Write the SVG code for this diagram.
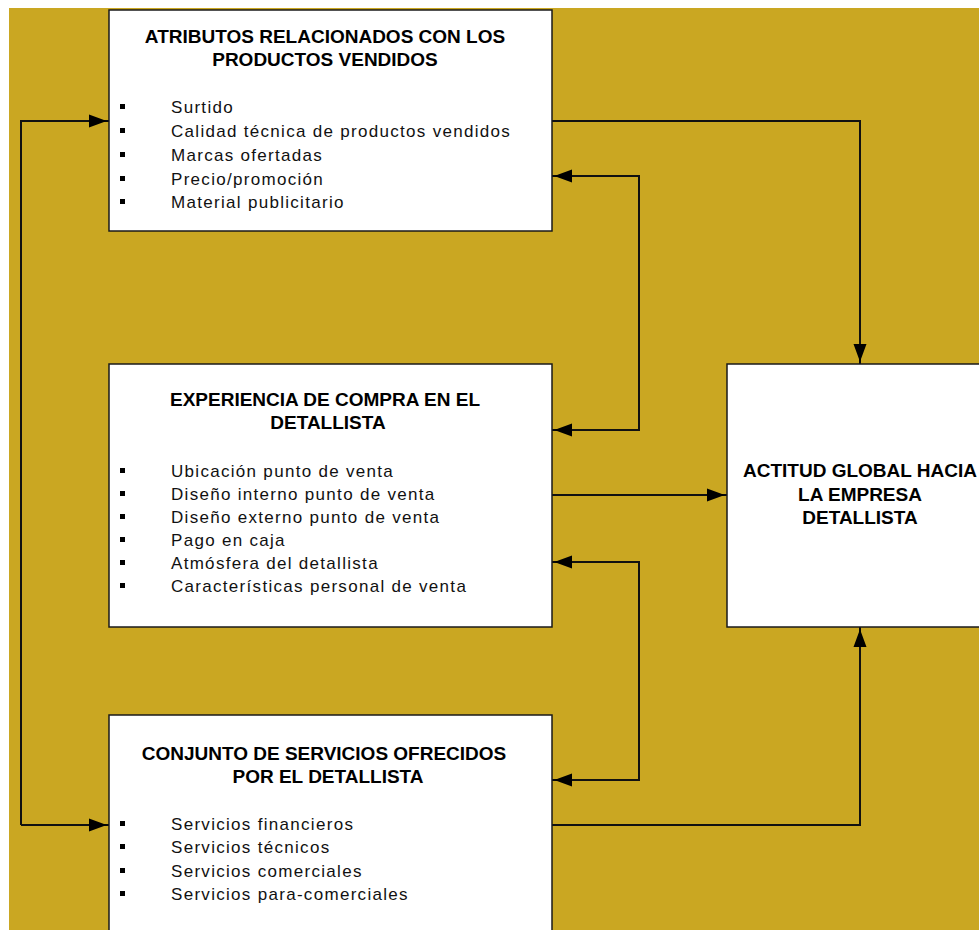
<svg xmlns="http://www.w3.org/2000/svg" width="979" height="930" viewBox="0 0 979 930">
<style>
.box{fill:#fff;stroke:#1a1a1a;stroke-width:1.5}
.ttl{font-family:"Liberation Sans",Arial,sans-serif;font-weight:bold;font-size:19px;fill:#000;text-anchor:middle}
.itm{font-family:"Liberation Sans",Arial,sans-serif;font-size:17px;letter-spacing:1.3px;fill:#111}
.bul{fill:#000}
.con{fill:none;stroke:#111;stroke-width:2}
</style>
<defs>
<marker id="ah" markerUnits="userSpaceOnUse" viewBox="0 0 20 14" refX="20" refY="7" markerWidth="20" markerHeight="14" orient="auto-start-reverse">
<path d="M0,0.5 L15,6 L20,7 L15,8 L0,13.5 z" fill="#000"/>
</marker>
</defs>
<rect x="0" y="0" width="979" height="930" fill="#fff"/>
<rect x="9" y="8" width="970" height="922" fill="#CAA722"/>

<g id="connectors">
<polyline class="con" points="21,825 21,121 109,121" marker-end="url(#ah)"/>
<polyline class="con" points="21,825 109,825" marker-end="url(#ah)"/>
<polyline class="con" points="552,121 860,121 860,364" marker-end="url(#ah)"/>
<polyline class="con" points="552,176 639,176 639,430 552,430" marker-start="url(#ah)" marker-end="url(#ah)"/>
<line class="con" x1="552" y1="495" x2="727" y2="495" marker-end="url(#ah)"/>
<polyline class="con" points="552,562 639,562 639,780 552,780" marker-start="url(#ah)" marker-end="url(#ah)"/>
<polyline class="con" points="552,825 860,825 860,627" marker-end="url(#ah)"/>
</g>

<g id="atributos">
<rect class="box" x="109" y="10" width="443" height="221"/>
<text class="ttl" x="325" y="43">ATRIBUTOS RELACIONADOS CON LOS</text>
<text class="ttl" x="325" y="66">PRODUCTOS VENDIDOS</text>
<rect class="bul" x="120" y="104" width="5" height="5"/>
<rect class="bul" x="120" y="128" width="5" height="5"/>
<rect class="bul" x="120" y="152" width="5" height="5"/>
<rect class="bul" x="120" y="176" width="5" height="5"/>
<rect class="bul" x="120" y="199" width="5" height="5"/>
<text class="itm" x="171" y="113">Surtido</text>
<text class="itm" x="171" y="137">Calidad técnica de productos vendidos</text>
<text class="itm" x="171" y="161">Marcas ofertadas</text>
<text class="itm" x="171" y="185">Precio/promoción</text>
<text class="itm" x="171" y="208">Material publicitario</text>
</g>

<g id="experiencia">
<rect class="box" x="109" y="364" width="443" height="263"/>
<text class="ttl" x="325" y="406">EXPERIENCIA DE COMPRA EN EL</text>
<text class="ttl" x="328" y="429">DETALLISTA</text>
<rect class="bul" x="120" y="468" width="5" height="5"/>
<rect class="bul" x="120" y="491" width="5" height="5"/>
<rect class="bul" x="120" y="514" width="5" height="5"/>
<rect class="bul" x="120" y="537" width="5" height="5"/>
<rect class="bul" x="120" y="560" width="5" height="5"/>
<rect class="bul" x="120" y="583" width="5" height="5"/>
<text class="itm" x="171" y="477">Ubicación punto de venta</text>
<text class="itm" x="171" y="500">Diseño interno punto de venta</text>
<text class="itm" x="171" y="523">Diseño externo punto de venta</text>
<text class="itm" x="171" y="546">Pago en caja</text>
<text class="itm" x="171" y="569">Atmósfera del detallista</text>
<text class="itm" x="171" y="592">Características personal de venta</text>
</g>

<g id="servicios">
<rect class="box" x="109" y="715" width="443" height="230"/>
<text class="ttl" x="324" y="760">CONJUNTO DE SERVICIOS OFRECIDOS</text>
<text class="ttl" x="328" y="783">POR EL DETALLISTA</text>
<rect class="bul" x="120" y="821" width="5" height="5"/>
<rect class="bul" x="120" y="844" width="5" height="5"/>
<rect class="bul" x="120" y="868" width="5" height="5"/>
<rect class="bul" x="120" y="891" width="5" height="5"/>
<text class="itm" x="171" y="830">Servicios financieros</text>
<text class="itm" x="171" y="853">Servicios técnicos</text>
<text class="itm" x="171" y="877">Servicios comerciales</text>
<text class="itm" x="171" y="900">Servicios para-comerciales</text>
</g>

<g id="actitud">
<rect class="box" x="727" y="364" width="270" height="263"/>
<text class="ttl" x="860" y="477">ACTITUD GLOBAL HACIA</text>
<text class="ttl" x="860" y="501">LA EMPRESA</text>
<text class="ttl" x="860" y="524">DETALLISTA</text>
</g>
</svg>
